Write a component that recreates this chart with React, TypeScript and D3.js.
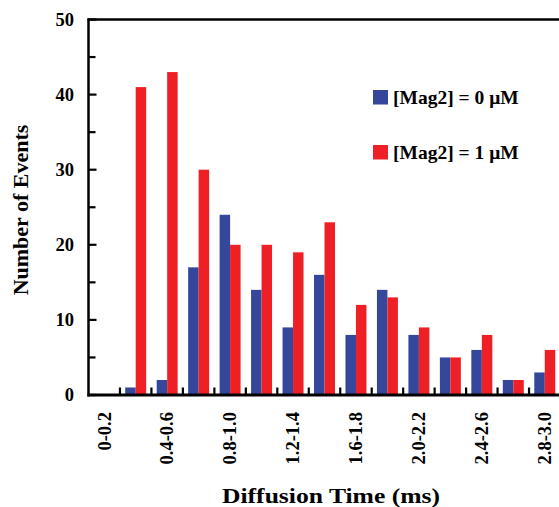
import React from "react";
import * as d3 from "d3";

// diffusion time bins (ms) and event counts for the two Mag2 concentrations
const bins = [
  "0-0.2", "0.2-0.4", "0.4-0.6", "0.6-0.8", "0.8-1.0",
  "1.0-1.2", "1.2-1.4", "1.4-1.6", "1.6-1.8", "1.8-2.0",
  "2.0-2.2", "2.2-2.4", "2.4-2.6", "2.6-2.8", "2.8-3.0",
];
const mag0 = [0, 1, 2, 17, 24, 14, 9, 16, 8, 14, 8, 5, 6, 2, 3];
const mag1 = [0, 41, 43, 30, 20, 20, 19, 23, 12, 13, 9, 5, 8, 2, 6];
const seriesNames = ["[Mag2] = 0 \u03bcM", "[Mag2] = 1 \u03bcM"];
const seriesColors = ["#34479b", "#ee2026"];
const shownLabels = ["0-0.2", "0.4-0.6", "0.8-1.0", "1.2-1.4", "1.6-1.8", "2.0-2.2", "2.4-2.6", "2.8-3.0"];
const yMajor = [0, 10, 20, 30, 40, 50];

const W = 559;
const H = 507;
const left = 88.5;
const right = 560.5;
const top = 19.5;
const bottom = 395;
const font = "'Liberation Serif', 'Times New Roman', serif";

export default function App() {
  const x = d3.scaleBand<string>().domain(bins).range([left, right]).padding(0);
  const inner = d3
    .scaleBand<number>()
    .domain([0, 1])
    .range([0, x.bandwidth()])
    .paddingInner(0)
    .paddingOuter(0.5);
  const y = d3.scaleLinear().domain([0, 50]).range([bottom, top]);
  const allSeries = [mag0, mag1];

  return (
    <svg width={W} height={H} style={{ position: "absolute", left: 0, top: 0, background: "#fff" }}>
      {/* bars */}
      {bins.map((b, i) => (
        <g key={b}>
          {allSeries.map((s, k) =>
            s[i] > 0 ? (
              <rect
                key={k}
                x={(x(b) as number) + (inner(k) as number)}
                y={y(s[i])}
                width={inner.bandwidth()}
                height={bottom - y(s[i])}
                fill={seriesColors[k]}
              />
            ) : null
          )}
        </g>
      ))}

      {/* frame */}
      <line x1={left} x2={left} y1={top - 1} y2={bottom + 1.5} stroke="#000" strokeWidth={2.5} />
      <line x1={left - 1} x2={W} y1={top} y2={top} stroke="#000" strokeWidth={2.4} />
      <line x1={left - 1} x2={W} y1={bottom} y2={bottom} stroke="#000" strokeWidth={3} />

      {/* y ticks, inside */}
      {y.ticks(10).map((t) => (
        <line
          key={"yt" + t}
          x1={left}
          x2={left + (t % 10 === 0 ? 8 : 7)}
          y1={y(t)}
          y2={y(t)}
          stroke="#000"
          strokeWidth={2.2}
        />
      ))}
      {yMajor.map((t) => (
        <text
          key={"yl" + t}
          x={74}
          y={y(t)}
          dy="0.34em"
          textAnchor="end"
          fontFamily={font}
          fontWeight="bold"
          fontSize={18.5}
        >
          {t}
        </text>
      ))}

      {/* x ticks at bin boundaries, inside */}
      {bins.slice(1).map((b) => (
        <line
          key={"xt" + b}
          x1={x(b) as number}
          x2={x(b) as number}
          y1={bottom}
          y2={bottom - 7.5}
          stroke="#000"
          strokeWidth={2.2}
        />
      ))}
      {shownLabels.map((b) => {
        const cx = (x(b) as number) + x.bandwidth() / 2;
        return (
          <text
            key={"xl" + b}
            transform={`translate(${cx},412) rotate(-90)`}
            dy="0.34em"
            textAnchor="end"
            fontFamily={font}
            fontWeight="bold"
            fontSize={18.5}
          >
            {b}
          </text>
        );
      })}

      {/* axis titles */}
      <text
        transform="translate(28,210) rotate(-90)"
        textAnchor="middle"
        fontFamily={font}
        fontWeight="bold"
        fontSize={22}
      >
        Number of Events
      </text>
      <text
        x={331}
        y={503}
        textAnchor="middle"
        fontFamily={font}
        fontWeight="bold"
        fontSize={21}
        textLength={218}
        lengthAdjust="spacingAndGlyphs"
      >
        Diffusion Time (ms)
      </text>

      {/* legend */}
      {seriesNames.map((name, k) => (
        <g key={name} transform={`translate(373,${90 + k * 55})`}>
          <rect x={0} y={0} width={15} height={14.5} fill={seriesColors[k]} />
          <text x={20} y={13.5} fontFamily={font} fontWeight="bold" fontSize={19.5}>
            {name}
          </text>
        </g>
      ))}
    </svg>
  );
}
